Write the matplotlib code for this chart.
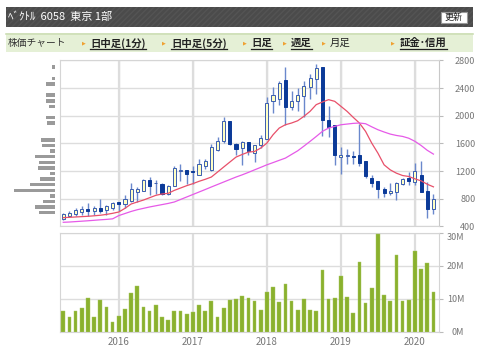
import matplotlib
matplotlib.use("Agg")
import matplotlib.pyplot as plt
from matplotlib.patches import Rectangle
from matplotlib.lines import Line2D
import numpy as np

plt.rcParams['font.family'] = ['Noto Sans CJK JP', 'DejaVu Sans']

# monthly candles, Apr 2015 .. Apr 2020
opens = [506, 549, 578, 607, 655, 622, 670, 631, 665, 747, 723, 771, 891, 906, 1070,
         1022, 1017, 868, 978, 1200, 1210, 1200, 1147, 1268, 1210, 1508, 1629, 1918, 1595,
         1532, 1614, 1459, 1571, 1667, 2209, 2248, 2514, 2122, 2209, 2282, 2417, 2538,
         2702, 1938, 1861, 1401, 1411, 1421, 1425, 1338, 1106, 1058, 942, 879, 893, 1014,
         1106, 1038, 1145, 918, 652]
closes = [578, 598, 636, 655, 617, 670, 626, 694, 737, 723, 795, 945, 940, 1070, 988,
          1032, 868, 983, 1239, 1210, 1162, 1185, 1306, 1350, 1547, 1629, 1918, 1586, 1513,
          1614, 1493, 1580, 1677, 2185, 2296, 2475, 2122, 2219, 2306, 2427, 2548, 2693,
          1938, 1841, 1435, 1435, 1425, 1401, 1314, 1121, 1024, 937, 879, 913, 1024, 1082,
          1058, 1203, 903, 647, 792]
highs = [593, 622, 670, 694, 732, 699, 790, 704, 747, 757, 858, 1022, 974, 1089, 1118,
         1070, 1027, 1002, 1268, 1301, 1210, 1268, 1378, 1369, 1595, 1687, 1976, 1923, 1610,
         1629, 1614, 1580, 1716, 2267, 2417, 2499, 2712, 2364, 2403, 2499, 2606, 2756,
         2702, 2137, 1861, 1542, 1517, 1483, 1885, 1338, 1145, 1058, 966, 1024, 1048, 1106,
         1193, 1314, 1348, 1048, 864]
lows = [487, 530, 549, 569, 549, 564, 598, 564, 636, 627, 660, 752, 747, 906, 858,
        868, 848, 858, 978, 1051, 1007, 1007, 1137, 1234, 1200, 1489, 1610, 1571, 1427,
        1290, 1435, 1329, 1532, 1667, 2040, 2161, 1861, 2089, 2074, 1977, 2248, 2315,
        1701, 1687, 1290, 1155, 1300, 1300, 1266, 1106, 966, 806, 830, 855, 782, 1000,
        1000, 1000, 893, 516, 574]
ma_short = [525, 530, 535, 540, 545, 552, 560, 572, 588, 607, 660, 723, 752, 780, 814,
            848, 868, 877, 920, 954, 988, 1017, 1051, 1080, 1113, 1185, 1258, 1330, 1402,
            1440, 1474, 1483, 1532, 1604, 1725, 1822, 1870, 1895, 1928, 1991, 2064, 2161,
            2199, 2233, 2209, 2137, 2064, 1977, 1895, 1774, 1604, 1459, 1290, 1217, 1169,
            1135, 1121, 1087, 1058, 1009, 971]
ma_long = [458, 462, 468, 474, 480, 487, 494, 500, 508, 555, 585, 615, 640, 660, 680,
           697, 714, 731, 752, 788, 824, 860, 896, 932, 969, 1005, 1041, 1077, 1113,
           1145, 1180, 1217, 1253, 1290, 1322, 1355, 1387, 1440, 1493, 1560, 1629, 1700,
           1774, 1822, 1846, 1870, 1880, 1890, 1895, 1885, 1840, 1798, 1765, 1735, 1715,
           1701, 1675, 1630, 1570, 1500, 1445]
volume = [6.4, 4.4, 6.2, 7.2, 10.1, 4.6, 9.6, 7.4, 3.0, 4.8, 6.8, 11.7, 14.0, 7.4, 6.2,
          8.2, 4.4, 3.4, 6.4, 6.2, 5.3, 6.0, 8.0, 6.2, 9.3, 4.6, 7.2, 9.6, 9.8,
          10.7, 10.1, 9.3, 6.5, 12.1, 13.5, 9.0, 14.4, 9.3, 6.5, 10.0, 6.6, 6.2, 18.6,
          9.9, 10.2, 16.8, 10.5, 5.7, 21.2, 8.6, 13.3, 29.5, 11.0, 9.3, 23.3, 9.3, 9.6,
          24.5, 19.0, 20.8, 12.1]
years = ['2016', '2017', '2018', '2019', '2020']
year_idx = [9, 21, 33, 45, 57]

# volume by price (left side)
vp_price = [597, 678, 759, 840, 921, 1002, 1083, 1164, 1245, 1326, 1407, 1488, 1569,
            1650, 1893, 1974, 2136, 2217, 2298, 2460, 2541, 2703]
vp_size = [15.7, 19.7, 12, 5, 41, 25, 15.3, 5, 17, 16, 19.7, 5, 13, 14.3, 7.7, 8.7,
           6, 9.3, 8.7, 8.7, 2.7, 2.7]

W, H = 480, 359
fig = plt.figure(figsize=(4.8, 3.59), dpi=100)


def box(x0, y0, x1, y1):
    return [x0 / W, 1 - y1 / H, (x1 - x0) / W, (y1 - y0) / H]


def fx(px):
    return px / W


def fy(py):
    return 1 - py / H


# header bar
fig.patches.append(Rectangle((fx(6), fy(27.3)), fx(467), 20.6 / H, transform=fig.transFigure,
                             facecolor='#4b4b4b', edgecolor='#545454', lw=0, hatch='//////'))
fig.text(fx(8), fy(16.5), 'ﾍﾞｸﾄﾙ  6058  東京 1部', color='white', fontsize=8, va='center')
fig.patches.append(Rectangle((fx(440.5), fy(22.8)), 26.5 / W, 10.5 / H, transform=fig.transFigure,
                             facecolor='white', edgecolor='#999999', lw=0.8))
fig.text(fx(453.7), fy(17.5), '更新', color='#222222', fontsize=6.5, ha='center', va='center')

# menu band
fig.patches.append(Rectangle((fx(6), fy(51.7)), fx(467), 18.4 / H, transform=fig.transFigure,
                             facecolor='#e5f0d6', edgecolor='none'))
fig.lines.append(Line2D([fx(6), fx(473)], [fy(33.8), fy(33.8)], transform=fig.transFigure,
                        color='#cddfb6', lw=1.2))
fig.text(fx(8), fy(43), '株価チャート', color='#333333', fontsize=7, va='center')
links = [(84, 90, '日中足(1分)', True), (164, 171, '日中足(5分)', True), (245, 251, '日足', True),
         (285, 291, '週足', True), (324, 330, '月足', False), (393, 400, '証金･信用', True)]
fig.canvas.draw()
rend = fig.canvas.get_renderer()
for tx, lx, label, bold in links:
    fig.text(fx(tx), fy(43), '▶', color='#f0a030', fontsize=3.5, va='center', ha='center',
             family=['DejaVu Sans'])
    t = fig.text(fx(lx), fy(43), label, color='#222222', fontsize=7.5, va='center',
                 fontweight='bold' if bold else 'normal')
    if bold:
        bb = t.get_window_extent(renderer=rend)
        fig.lines.append(Line2D([bb.x0 / W, bb.x1 / W], [fy(48.8), fy(48.8)],
                                transform=fig.transFigure, color='#222222', lw=0.9))

grid_c = '#dddddd'
lab_c = '#777777'
x = np.arange(len(opens))

# price panel
ax = fig.add_axes(box(60, 60.5, 439.3, 226.3))
for i in range(len(x)):
    up = closes[i] >= opens[i]
    ax.vlines(x[i], lows[i], highs[i], color='#6a88cc', lw=1.0, zorder=3)
    b = min(opens[i], closes[i])
    h = max(abs(closes[i] - opens[i]), 8)
    ax.bar(x[i], h, bottom=b, width=0.5, zorder=4,
           facecolor='#ffffc4' if up else '#0b3a98',
           edgecolor='#3a5db0' if up else '#0b3a98', lw=0.7)
ax.plot(x, ma_short, color='#e8506a', lw=0.9, zorder=5)
ax.plot(x, ma_long, color='#e65ae8', lw=0.9, zorder=5)
ax.set_xlim(-0.53, 60.95)
ax.set_ylim(400, 2800)
ax.set_yticks(range(400, 2801, 400))
ax.set_xticks(year_idx)
ax.set_xticklabels([])
ax.grid(True, color=grid_c, lw=1.0)
for yi in year_idx:
    ax.axvline(yi, color=grid_c, lw=1.6, zorder=0)
ax.yaxis.tick_right()
ax.tick_params(axis='y', length=3, color='#bbbbbb', labelcolor=lab_c, labelsize=6.5, pad=23)
ax.tick_params(axis='x', length=0)
for lb in ax.get_yticklabels():
    lb.set_horizontalalignment('right')
for s in ax.spines.values():
    s.set_color('#d5d5d5')
ax.spines['right'].set_color('#c8c8c8')

# volume panel
axv = fig.add_axes(box(60, 232.7, 439.3, 331.7))
axv.bar(x, volume, width=0.6, color='#8ab12e', edgecolor='#a8c860', lw=0.3, zorder=3)
axv.set_xlim(-0.53, 60.95)
axv.set_ylim(0, 30)
axv.set_yticks([0, 10, 20, 30])
axv.set_yticklabels(['0M', '10M', '20M', '30M'])
axv.set_xticks(year_idx)
axv.set_xticklabels(years)
axv.grid(True, axis='y', color=grid_c, lw=1.0)
for yi in year_idx:
    axv.axvline(yi, color=grid_c, lw=1.6, zorder=0)
axv.yaxis.tick_right()
axv.tick_params(axis='y', length=3, color='#bbbbbb', labelcolor=lab_c, labelsize=6.5, pad=15)
axv.tick_params(axis='x', length=0, labelcolor=lab_c, labelsize=7, pad=4)
for lb in axv.get_yticklabels():
    lb.set_horizontalalignment('right')
axv.get_yticklabels()[-1].set_verticalalignment('top')
for s in axv.spines.values():
    s.set_color('#d5d5d5')

# volume-by-price histogram
axh = fig.add_axes(box(12, 60.5, 55, 226.3))
axh.barh(vp_price, vp_size, height=50, color='#9a9a9a')
axh.set_xlim(43, 0)
axh.set_ylim(400, 2800)
axh.axis('off')

fig.savefig('out.png', dpi=100)
